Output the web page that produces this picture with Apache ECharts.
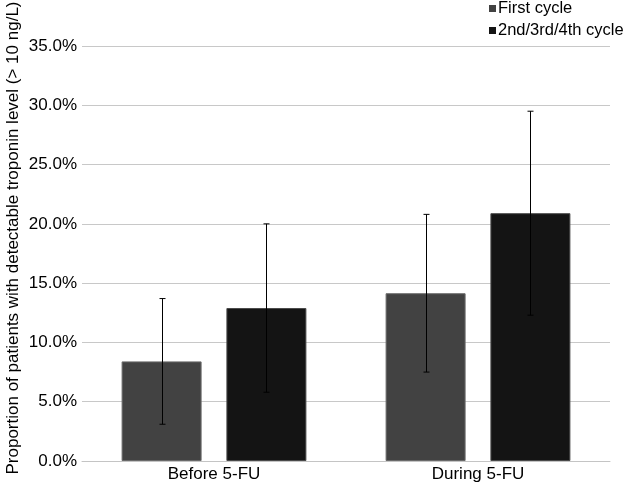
<!DOCTYPE html>
<html><head><meta charset="utf-8">
<script src="https://cdn.jsdelivr.net/npm/echarts@6/dist/echarts.min.js"></script>
<style>html,body{margin:0;padding:0;background:#fff}#c{width:626px;height:488px}</style>
</head><body><div id="c"></div>
<script>
const categories = ['Before 5-FU', 'During 5-FU'];
const seriesNames = ['First cycle', '2nd/3rd/4th cycle'];
const firstCycle = [8.4, 14.15];
const laterCycles = [12.9, 20.9];
const firstLow = [3.1, 7.5];
const firstHigh = [13.7, 20.8];
const laterLow = [5.8, 12.3];
const laterHigh = [20.0, 29.5];
const yTicks = [0, 5, 10, 15, 20, 25, 30, 35];
const yTitle = 'Proportion of patients with detectable troponin level (> 10 ng/L)';

const font = 'Liberation Sans, Arial, Helvetica, sans-serif';
const chart = echarts.init(document.getElementById('c'), null, {renderer: 'canvas'});

function errSeries(idx, low, high) {
  return {
    type: 'custom',
    name: 'err' + idx,
    z: 10,
    silent: true,
    data: categories.map((c, i) => [i, low[i], high[i]]),
    renderItem: function (params, api) {
      const ci = api.value(0);
      const lowP = api.coord([ci, api.value(1)]);
      const highP = api.coord([ci, api.value(2)]);
      const bw = api.size([1, 0])[0];
      const barW = bw * 0.303;
      const gap = barW * 0.31;
      const off = (idx === 0 ? -1 : 1) * (barW / 2 + gap / 2);
      const x = Math.round(lowP[0] + off) + 0.5;
      const cap = 3;
      const st = {stroke: '#000', lineWidth: 1};
      return {
        type: 'group',
        children: [
          {type: 'line', shape: {x1: x, y1: highP[1], x2: x, y2: lowP[1]}, style: st},
          {type: 'line', shape: {x1: x - cap, y1: highP[1], x2: x + cap, y2: highP[1]}, style: st},
          {type: 'line', shape: {x1: x - cap, y1: lowP[1], x2: x + cap, y2: lowP[1]}, style: st}
        ]
      };
    }
  };
}

chart.setOption({
  animation: false,
  backgroundColor: '#fff',
  grid: {left: 82, right: 16, top: 46, bottom: 27, containLabel: false, outerBoundsMode: 'none'},
  graphic: [{
    type: 'text', x: 13, y: 238, rotation: Math.PI / 2,
    style: {text: yTitle, font: '17px ' + font, fill: '#000', align: 'center', verticalAlign: 'middle'}
  }],
  legend: {
    data: seriesNames,
    orient: 'vertical',
    left: 484, top: -5,
    itemWidth: 7, itemHeight: 7, itemGap: 5,
    icon: 'rect',
    itemStyle: {borderWidth: 0},
    textStyle: {fontFamily: font, fontSize: 16.5, color: '#000', padding: [0, 0, 0, -3]}
  },
  xAxis: {
    type: 'category',
    data: categories,
    axisLine: {show: true, lineStyle: {color: '#c4c4c4', width: 1}},
    axisTick: {show: false},
    axisLabel: {fontFamily: font, fontSize: 17, color: '#000', margin: 5}
  },
  yAxis: {
    type: 'value',
    min: 0, max: 35, interval: 5,
    axisLine: {show: false},
    axisTick: {show: false},
    splitLine: {lineStyle: {color: '#c8c8c8', width: 1}},
    axisLabel: {fontFamily: font, fontSize: 17, color: '#000', margin: 5,
      formatter: v => yTicks.includes(v) ? v.toFixed(1) + '%' : ''}
  },
  series: [
    {name: seriesNames[0], type: 'bar', data: firstCycle, barWidth: '30.3%', barGap: '31%',
      itemStyle: {color: '#424242', borderColor: '#6a6a6a', borderWidth: 1}},
    {name: seriesNames[1], type: 'bar', data: laterCycles, barWidth: '30.3%', barGap: '31%',
      itemStyle: {color: '#141414', borderColor: '#4a4a4a', borderWidth: 1}},
    errSeries(0, firstLow, firstHigh),
    errSeries(1, laterLow, laterHigh)
  ]
});
</script></body></html>
